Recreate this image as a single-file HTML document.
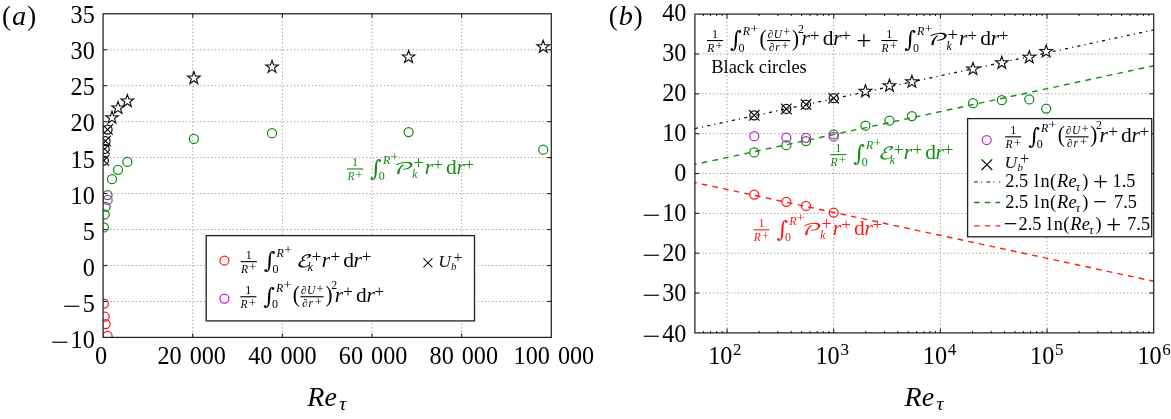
<!DOCTYPE html>
<html lang="en"><head><meta charset="utf-8"><title>Figure</title>
<style>html,body{margin:0;padding:0;background:#fff}svg{display:block}text{white-space:pre}</style></head><body>
<svg width="1171" height="419" viewBox="0 0 1171 419" font-family='"Liberation Serif","DejaVu Serif",serif'>
<rect width="1171" height="419" fill="#fff"/>
<defs><clipPath id="clipA"><rect x="103.10" y="3.80" width="458.20" height="333.60"/></clipPath></defs>
<g id="panelA">
<line x1="192.74" x2="192.74" y1="13.80" y2="337.40" stroke="#a2a2a2" stroke-width="1" stroke-dasharray="1.4 2.2"/>
<line x1="282.38" x2="282.38" y1="13.80" y2="337.40" stroke="#a2a2a2" stroke-width="1" stroke-dasharray="1.4 2.2"/>
<line x1="372.02" x2="372.02" y1="13.80" y2="337.40" stroke="#a2a2a2" stroke-width="1" stroke-dasharray="1.4 2.2"/>
<line x1="461.66" x2="461.66" y1="13.80" y2="337.40" stroke="#a2a2a2" stroke-width="1" stroke-dasharray="1.4 2.2"/>
<line x1="103.10" x2="551.30" y1="301.44" y2="301.44" stroke="#a2a2a2" stroke-width="1" stroke-dasharray="1.4 2.2"/>
<line x1="103.10" x2="551.30" y1="265.49" y2="265.49" stroke="#a2a2a2" stroke-width="1" stroke-dasharray="1.4 2.2"/>
<line x1="103.10" x2="551.30" y1="229.53" y2="229.53" stroke="#a2a2a2" stroke-width="1" stroke-dasharray="1.4 2.2"/>
<line x1="103.10" x2="551.30" y1="193.58" y2="193.58" stroke="#a2a2a2" stroke-width="1" stroke-dasharray="1.4 2.2"/>
<line x1="103.10" x2="551.30" y1="157.62" y2="157.62" stroke="#a2a2a2" stroke-width="1" stroke-dasharray="1.4 2.2"/>
<line x1="103.10" x2="551.30" y1="121.67" y2="121.67" stroke="#a2a2a2" stroke-width="1" stroke-dasharray="1.4 2.2"/>
<line x1="103.10" x2="551.30" y1="85.71" y2="85.71" stroke="#a2a2a2" stroke-width="1" stroke-dasharray="1.4 2.2"/>
<line x1="103.10" x2="551.30" y1="49.76" y2="49.76" stroke="#a2a2a2" stroke-width="1" stroke-dasharray="1.4 2.2"/>
<g clip-path="url(#clipA)">
<circle cx="103.91" cy="227.38" r="4.50" fill="none" stroke="#128c12" stroke-width="1.25"/>
<circle cx="104.71" cy="214.43" r="4.50" fill="none" stroke="#128c12" stroke-width="1.25"/>
<circle cx="105.57" cy="206.88" r="4.50" fill="none" stroke="#128c12" stroke-width="1.25"/>
<circle cx="107.58" cy="195.02" r="4.50" fill="none" stroke="#128c12" stroke-width="1.25"/>
<circle cx="103.91" cy="303.60" r="4.50" fill="none" stroke="#ff1a1a" stroke-width="1.25"/>
<circle cx="104.71" cy="316.55" r="4.50" fill="none" stroke="#ff1a1a" stroke-width="1.25"/>
<circle cx="105.57" cy="324.10" r="4.50" fill="none" stroke="#ff1a1a" stroke-width="1.25"/>
<circle cx="107.58" cy="335.96" r="4.50" fill="none" stroke="#ff1a1a" stroke-width="1.25"/>
<circle cx="107.67" cy="199.91" r="4.50" fill="none" stroke="#c41fd6" stroke-width="1.25"/>
<circle cx="103.91" cy="160.50" r="4.50" fill="none" stroke="#111" stroke-width="1.25"/>
<path d="M98.61 155.20L109.21 165.80M98.61 165.80L109.21 155.20" stroke="#111" stroke-width="1.15" fill="none"/>
<circle cx="104.71" cy="148.99" r="4.50" fill="none" stroke="#111" stroke-width="1.25"/>
<path d="M99.41 143.69L110.01 154.29M99.41 154.29L110.01 143.69" stroke="#111" stroke-width="1.15" fill="none"/>
<circle cx="105.57" cy="141.08" r="4.50" fill="none" stroke="#111" stroke-width="1.25"/>
<path d="M100.27 135.78L110.87 146.38M100.27 146.38L110.87 135.78" stroke="#111" stroke-width="1.15" fill="none"/>
<circle cx="107.58" cy="129.58" r="4.50" fill="none" stroke="#111" stroke-width="1.25"/>
<path d="M102.28 124.28L112.88 134.88M102.28 134.88L112.88 124.28" stroke="#111" stroke-width="1.15" fill="none"/>
<circle cx="112.00" cy="179.20" r="4.50" fill="none" stroke="#128c12" stroke-width="1.25"/>
<circle cx="118.04" cy="169.85" r="4.50" fill="none" stroke="#128c12" stroke-width="1.25"/>
<circle cx="127.35" cy="161.94" r="4.50" fill="none" stroke="#128c12" stroke-width="1.25"/>
<circle cx="193.86" cy="138.93" r="4.50" fill="none" stroke="#128c12" stroke-width="1.25"/>
<circle cx="272.03" cy="133.17" r="4.50" fill="none" stroke="#128c12" stroke-width="1.25"/>
<circle cx="408.59" cy="132.09" r="4.50" fill="none" stroke="#128c12" stroke-width="1.25"/>
<circle cx="543.19" cy="149.71" r="4.50" fill="none" stroke="#128c12" stroke-width="1.25"/>
<polygon points="112.00,111.11 113.55,115.58 118.27,115.67 114.51,118.53 115.88,123.05 112.00,120.35 108.12,123.05 109.49,118.53 105.72,115.67 110.45,115.58" fill="#fff" stroke="#111" stroke-width="1.15" stroke-linejoin="miter"/>
<polygon points="118.04,101.40 119.59,105.87 124.32,105.96 120.55,108.82 121.92,113.34 118.04,110.64 114.16,113.34 115.53,108.82 111.77,105.96 116.49,105.87" fill="#fff" stroke="#111" stroke-width="1.15" stroke-linejoin="miter"/>
<polygon points="127.35,94.57 128.90,99.04 133.63,99.13 129.86,101.99 131.23,106.51 127.35,103.81 123.47,106.51 124.84,101.99 121.08,99.13 125.80,99.04" fill="#fff" stroke="#111" stroke-width="1.15" stroke-linejoin="miter"/>
<polygon points="193.86,71.56 195.41,76.02 200.14,76.12 196.37,78.98 197.74,83.50 193.86,80.80 189.98,83.50 191.35,78.98 187.58,76.12 192.31,76.02" fill="#fff" stroke="#111" stroke-width="1.15" stroke-linejoin="miter"/>
<polygon points="272.03,60.41 273.58,64.88 278.30,64.97 274.54,67.83 275.91,72.35 272.03,69.65 268.15,72.35 269.52,67.83 265.75,64.97 270.47,64.88" fill="#fff" stroke="#111" stroke-width="1.15" stroke-linejoin="miter"/>
<polygon points="408.59,50.49 410.14,54.95 414.87,55.05 411.10,57.91 412.47,62.43 408.59,59.73 404.71,62.43 406.08,57.91 402.32,55.05 407.04,54.95" fill="#fff" stroke="#111" stroke-width="1.15" stroke-linejoin="miter"/>
<polygon points="543.19,40.28 544.74,44.74 549.46,44.84 545.70,47.69 547.07,52.22 543.19,49.52 539.31,52.22 540.68,47.69 536.91,44.84 541.64,44.74" fill="#fff" stroke="#111" stroke-width="1.15" stroke-linejoin="miter"/>
</g>
<line x1="192.74" x2="192.74" y1="337.40" y2="333.40" stroke="#222" stroke-width="1.1"/>
<line x1="192.74" x2="192.74" y1="13.80" y2="17.80" stroke="#222" stroke-width="1.1"/>
<line x1="282.38" x2="282.38" y1="337.40" y2="333.40" stroke="#222" stroke-width="1.1"/>
<line x1="282.38" x2="282.38" y1="13.80" y2="17.80" stroke="#222" stroke-width="1.1"/>
<line x1="372.02" x2="372.02" y1="337.40" y2="333.40" stroke="#222" stroke-width="1.1"/>
<line x1="372.02" x2="372.02" y1="13.80" y2="17.80" stroke="#222" stroke-width="1.1"/>
<line x1="461.66" x2="461.66" y1="337.40" y2="333.40" stroke="#222" stroke-width="1.1"/>
<line x1="461.66" x2="461.66" y1="13.80" y2="17.80" stroke="#222" stroke-width="1.1"/>
<line x1="103.10" x2="107.10" y1="301.44" y2="301.44" stroke="#222" stroke-width="1.1"/>
<line x1="551.30" x2="547.30" y1="301.44" y2="301.44" stroke="#222" stroke-width="1.1"/>
<line x1="103.10" x2="107.10" y1="265.49" y2="265.49" stroke="#222" stroke-width="1.1"/>
<line x1="551.30" x2="547.30" y1="265.49" y2="265.49" stroke="#222" stroke-width="1.1"/>
<line x1="103.10" x2="107.10" y1="229.53" y2="229.53" stroke="#222" stroke-width="1.1"/>
<line x1="551.30" x2="547.30" y1="229.53" y2="229.53" stroke="#222" stroke-width="1.1"/>
<line x1="103.10" x2="107.10" y1="193.58" y2="193.58" stroke="#222" stroke-width="1.1"/>
<line x1="551.30" x2="547.30" y1="193.58" y2="193.58" stroke="#222" stroke-width="1.1"/>
<line x1="103.10" x2="107.10" y1="157.62" y2="157.62" stroke="#222" stroke-width="1.1"/>
<line x1="551.30" x2="547.30" y1="157.62" y2="157.62" stroke="#222" stroke-width="1.1"/>
<line x1="103.10" x2="107.10" y1="121.67" y2="121.67" stroke="#222" stroke-width="1.1"/>
<line x1="551.30" x2="547.30" y1="121.67" y2="121.67" stroke="#222" stroke-width="1.1"/>
<line x1="103.10" x2="107.10" y1="85.71" y2="85.71" stroke="#222" stroke-width="1.1"/>
<line x1="551.30" x2="547.30" y1="85.71" y2="85.71" stroke="#222" stroke-width="1.1"/>
<line x1="103.10" x2="107.10" y1="49.76" y2="49.76" stroke="#222" stroke-width="1.1"/>
<line x1="551.30" x2="547.30" y1="49.76" y2="49.76" stroke="#222" stroke-width="1.1"/>
<rect x="103.10" y="13.80" width="448.20" height="323.60" fill="none" stroke="#222" stroke-width="1.25"/>
<text transform="translate(50.80,350.30) scale(1.36,1)" font-size="24" fill="#000">−</text><text x="94.80" y="348.30" font-size="24.2" text-anchor="end" fill="#000">10</text>
<text transform="translate(62.80,314.15) scale(1.36,1)" font-size="24" fill="#000">−</text><text x="94.80" y="312.15" font-size="24.2" text-anchor="end" fill="#000">5</text>
<text x="94.80" y="276.00" font-size="24.2" text-anchor="end" fill="#000">0</text>
<text x="94.80" y="239.85" font-size="24.2" text-anchor="end" fill="#000">5</text>
<text x="94.80" y="203.70" font-size="24.2" text-anchor="end" fill="#000">10</text>
<text x="94.80" y="167.55" font-size="24.2" text-anchor="end" fill="#000">15</text>
<text x="94.80" y="131.40" font-size="24.2" text-anchor="end" fill="#000">20</text>
<text x="94.80" y="95.25" font-size="24.2" text-anchor="end" fill="#000">25</text>
<text x="94.80" y="59.10" font-size="24.2" text-anchor="end" fill="#000">30</text>
<text x="94.80" y="22.95" font-size="24.2" text-anchor="end" fill="#000">35</text>
<text x="101.00" y="363.5" font-size="24.2" text-anchor="middle" word-spacing="2" fill="#000">0</text>
<text x="191.70" y="363.5" font-size="24.2" text-anchor="middle" word-spacing="2" fill="#000">20 000</text>
<text x="282.40" y="363.5" font-size="24.2" text-anchor="middle" word-spacing="2" fill="#000">40 000</text>
<text x="373.10" y="363.5" font-size="24.2" text-anchor="middle" word-spacing="2" fill="#000">60 000</text>
<text x="463.80" y="363.5" font-size="24.2" text-anchor="middle" word-spacing="2" fill="#000">80 000</text>
<text x="553.90" y="363.5" font-size="24.2" text-anchor="middle" word-spacing="2" fill="#000">100 000</text>
<text x="307.3" y="405.5" font-size="28" font-style="italic" fill="#000">Re<tspan font-size="19.5" x="339.3" y="409.6">τ</tspan></text>
<text x="2.1" y="25.0" font-size="26.8" letter-spacing="1.0" fill="#000">(<tspan font-style="italic" font-size="28.3">a</tspan>)</text>
<rect x="206.2" y="235.6" width="268.3" height="85.3" fill="#fff" stroke="#222" stroke-width="1.3"/>
<circle cx="224.40" cy="260.50" r="4.50" fill="none" stroke="#ff1a1a" stroke-width="1.25"/>
<circle cx="224.40" cy="298.60" r="4.50" fill="none" stroke="#c41fd6" stroke-width="1.25"/>
<g transform="translate(240.80,266.50) scale(1.0000)" fill="#000" font-family='"Liberation Serif","DejaVu Serif",serif'>
<rect x="0" y="-5.4" width="16.1" height="1.1"/>
<text x="8.0" y="-7.6" font-size="12" text-anchor="middle">1</text>
<text x="0.3" y="6.2" font-size="11.5" font-style="italic">R<tspan x="8.50" y="4.90" font-size="12.5" font-style="normal">+</tspan></text>
<text x="23.0" y="1.9" font-size="22.5" font-family='"DejaVu Serif","Liberation Serif",serif'>∫</text>
<text x="35.8" y="-10.0" font-size="12" font-style="italic">R<tspan x="43.40" y="-12.60" font-size="13.5" font-style="normal">+</tspan></text>
<text x="31.6" y="6.4" font-size="12">0</text>
<g transform="translate(55.20,0) skewX(-12) scale(1.25,1)"><text x="0" y="0" font-size="17" font-family='"DejaVu Math TeX Gyre","DejaVu Sans","Liberation Serif",serif'>ℰ</text></g>
<text x="67.00" y="4.5" font-size="11.5" font-style="italic">k</text>
<text font-size="14"><tspan x="70.90" y="-4.60" font-size="17.0" font-style="normal">+</tspan></text>
<text x="81.00" y="0" font-size="21.5"><tspan font-style="italic">r</tspan><tspan x="89.60" y="-4.30" font-size="17.0" font-style="normal">+</tspan><tspan x="102.40" y="0">d</tspan><tspan x="112.80" font-style="italic">r</tspan><tspan x="120.90" y="-4.30" font-size="17.0" font-style="normal">+</tspan></text>
</g>
<g transform="translate(240.30,301.60) scale(1.0000)" fill="#000" font-family='"Liberation Serif","DejaVu Serif",serif'>
<rect x="0" y="-5.4" width="16.1" height="1.1"/>
<text x="8.0" y="-7.6" font-size="12" text-anchor="middle">1</text>
<text x="0.3" y="6.2" font-size="11.5" font-style="italic">R<tspan x="8.50" y="4.90" font-size="12.5" font-style="normal">+</tspan></text>
<text x="23.0" y="1.9" font-size="22.5" font-family='"DejaVu Serif","Liberation Serif",serif'>∫</text>
<text x="35.8" y="-10.0" font-size="12" font-style="italic">R<tspan x="43.40" y="-12.60" font-size="13.5" font-style="normal">+</tspan></text>
<text x="31.6" y="6.4" font-size="12">0</text>
<g transform="translate(52.50,0.5) scale(0.88,1)"><text x="0" y="0" font-size="24">(</text></g>
<rect x="60.10" y="-5.4" width="23.2" height="1.1"/>
<text x="60.70" y="-7.6" font-size="11.5" font-style="italic">∂<tspan dx="0.3">U</tspan><tspan x="76.30" y="-9.10" font-size="12.5" font-style="normal">+</tspan></text>
<text x="61.90" y="5.6" font-size="11.5" font-style="italic">∂<tspan dx="0.6">r</tspan><tspan x="74.50" y="4.20" font-size="12.5" font-style="normal">+</tspan></text>
<g transform="translate(85.10,0.5) scale(0.88,1)"><text x="0" y="0" font-size="24">)</text></g>
<text x="90.90" y="-12.8" font-size="11.8">2</text>
<text x="94.40" y="0" font-size="21.5"><tspan font-style="italic">r</tspan><tspan x="103.00" y="-4.30" font-size="17.0" font-style="normal">+</tspan><tspan x="115.80" y="0">d</tspan><tspan x="126.20" font-style="italic">r</tspan><tspan x="134.30" y="-4.30" font-size="17.0" font-style="normal">+</tspan></text>
</g>
<path d="M423.40 258.40L432.40 267.40M423.40 267.40L432.40 258.40" stroke="#111" stroke-width="1.05" fill="none"/>
<text x="438.20" y="267.10" font-size="17.6" font-style="italic" fill="#111" letter-spacing="0.4">U<tspan x="451.00" y="270.30" font-size="11">b</tspan><tspan x="453.50" y="262.50" font-size="16" font-style="normal">+</tspan></text>
<g transform="translate(347.10,173.80) scale(1.0000)" fill="#128c12" font-family='"Liberation Serif","DejaVu Serif",serif'>
<rect x="0" y="-5.4" width="16.1" height="1.1"/>
<text x="8.0" y="-7.6" font-size="12" text-anchor="middle">1</text>
<text x="0.3" y="6.2" font-size="11.5" font-style="italic">R<tspan x="8.50" y="4.90" font-size="12.5" font-style="normal">+</tspan></text>
<text x="23.0" y="1.9" font-size="22.5" font-family='"DejaVu Serif","Liberation Serif",serif'>∫</text>
<text x="35.8" y="-10.0" font-size="12" font-style="italic">R<tspan x="43.40" y="-12.60" font-size="13.5" font-style="normal">+</tspan></text>
<text x="31.6" y="6.4" font-size="12">0</text>
<g transform="translate(45.20,0) skewX(-10) scale(1.52,1)"><text x="0" y="0" font-size="16" font-family='"DejaVu Math TeX Gyre","DejaVu Sans","Liberation Serif",serif'>𝒫</text></g>
<text x="65.20" y="4.5" font-size="11.5" font-style="italic">k</text>
<text font-size="14"><tspan x="66.40" y="-4.60" font-size="18.0" font-style="normal">+</tspan></text>
<text x="77.60" y="0" font-size="21.5"><tspan font-style="italic">r</tspan><tspan x="86.20" y="-4.30" font-size="17.0" font-style="normal">+</tspan><tspan x="99.00" y="0">d</tspan><tspan x="109.40" font-style="italic">r</tspan><tspan x="117.50" y="-4.30" font-size="17.0" font-style="normal">+</tspan></text>
</g>
</g>
<g id="panelB">
<line x1="727.01" x2="727.01" y1="14.10" y2="332.90" stroke="#a2a2a2" stroke-width="1" stroke-dasharray="1.4 2.2"/>
<line x1="833.68" x2="833.68" y1="14.10" y2="332.90" stroke="#a2a2a2" stroke-width="1" stroke-dasharray="1.4 2.2"/>
<line x1="940.36" x2="940.36" y1="14.10" y2="332.90" stroke="#a2a2a2" stroke-width="1" stroke-dasharray="1.4 2.2"/>
<line x1="1047.03" x2="1047.03" y1="14.10" y2="332.90" stroke="#a2a2a2" stroke-width="1" stroke-dasharray="1.4 2.2"/>
<line x1="694.90" x2="1153.70" y1="293.05" y2="293.05" stroke="#a2a2a2" stroke-width="1" stroke-dasharray="1.4 2.2"/>
<line x1="694.90" x2="1153.70" y1="253.20" y2="253.20" stroke="#a2a2a2" stroke-width="1" stroke-dasharray="1.4 2.2"/>
<line x1="694.90" x2="1153.70" y1="213.35" y2="213.35" stroke="#a2a2a2" stroke-width="1" stroke-dasharray="1.4 2.2"/>
<line x1="694.90" x2="1153.70" y1="173.50" y2="173.50" stroke="#a2a2a2" stroke-width="1" stroke-dasharray="1.4 2.2"/>
<line x1="694.90" x2="1153.70" y1="133.65" y2="133.65" stroke="#a2a2a2" stroke-width="1" stroke-dasharray="1.4 2.2"/>
<line x1="694.90" x2="1153.70" y1="93.80" y2="93.80" stroke="#a2a2a2" stroke-width="1" stroke-dasharray="1.4 2.2"/>
<line x1="694.90" x2="1153.70" y1="53.95" y2="53.95" stroke="#a2a2a2" stroke-width="1" stroke-dasharray="1.4 2.2"/>
<line x1="694.90" y1="128.55" x2="1153.70" y2="29.89" stroke="#111" stroke-width="1.30" stroke-dasharray="3 4.26 1.1 4.26" stroke-dashoffset="0"/>
<line x1="694.90" y1="164.41" x2="1153.70" y2="65.75" stroke="#128c12" stroke-width="1.40" stroke-dasharray="5.7 5.2" stroke-dashoffset="3.9"/>
<line x1="694.90" y1="182.59" x2="1153.70" y2="281.25" stroke="#ff1a1a" stroke-width="1.40" stroke-dasharray="5.7 5.2" stroke-dashoffset="3.9"/>
<circle cx="754.24" cy="152.38" r="4.50" fill="none" stroke="#128c12" stroke-width="1.25"/>
<circle cx="786.35" cy="145.21" r="4.50" fill="none" stroke="#128c12" stroke-width="1.25"/>
<circle cx="805.99" cy="141.02" r="4.50" fill="none" stroke="#128c12" stroke-width="1.25"/>
<circle cx="833.68" cy="134.45" r="4.50" fill="none" stroke="#128c12" stroke-width="1.25"/>
<circle cx="754.24" cy="194.62" r="4.50" fill="none" stroke="#ff1a1a" stroke-width="1.25"/>
<circle cx="786.35" cy="201.79" r="4.50" fill="none" stroke="#ff1a1a" stroke-width="1.25"/>
<circle cx="805.99" cy="205.98" r="4.50" fill="none" stroke="#ff1a1a" stroke-width="1.25"/>
<circle cx="833.68" cy="212.55" r="4.50" fill="none" stroke="#ff1a1a" stroke-width="1.25"/>
<circle cx="754.24" cy="136.24" r="4.50" fill="none" stroke="#c41fd6" stroke-width="1.25"/>
<circle cx="786.35" cy="137.63" r="4.50" fill="none" stroke="#c41fd6" stroke-width="1.25"/>
<circle cx="805.99" cy="137.83" r="4.50" fill="none" stroke="#c41fd6" stroke-width="1.25"/>
<circle cx="833.68" cy="136.64" r="4.50" fill="none" stroke="#c41fd6" stroke-width="1.25"/>
<circle cx="754.24" cy="115.32" r="4.50" fill="none" stroke="#111" stroke-width="1.25"/>
<path d="M748.94 110.02L759.54 120.62M748.94 120.62L759.54 110.02" stroke="#111" stroke-width="1.15" fill="none"/>
<circle cx="786.35" cy="108.94" r="4.50" fill="none" stroke="#111" stroke-width="1.25"/>
<path d="M781.05 103.64L791.65 114.24M781.05 114.24L791.65 103.64" stroke="#111" stroke-width="1.15" fill="none"/>
<circle cx="805.99" cy="104.56" r="4.50" fill="none" stroke="#111" stroke-width="1.25"/>
<path d="M800.69 99.26L811.29 109.86M800.69 109.86L811.29 99.26" stroke="#111" stroke-width="1.15" fill="none"/>
<circle cx="833.68" cy="98.18" r="4.50" fill="none" stroke="#111" stroke-width="1.25"/>
<path d="M828.38 92.88L838.98 103.48M828.38 103.48L838.98 92.88" stroke="#111" stroke-width="1.15" fill="none"/>
<circle cx="865.45" cy="125.68" r="4.50" fill="none" stroke="#128c12" stroke-width="1.25"/>
<circle cx="889.47" cy="120.50" r="4.50" fill="none" stroke="#128c12" stroke-width="1.25"/>
<circle cx="911.90" cy="116.12" r="4.50" fill="none" stroke="#128c12" stroke-width="1.25"/>
<circle cx="973.04" cy="103.16" r="4.50" fill="none" stroke="#128c12" stroke-width="1.25"/>
<circle cx="1001.82" cy="100.18" r="4.50" fill="none" stroke="#128c12" stroke-width="1.25"/>
<circle cx="1029.27" cy="99.38" r="4.50" fill="none" stroke="#128c12" stroke-width="1.25"/>
<circle cx="1046.18" cy="108.54" r="4.50" fill="none" stroke="#128c12" stroke-width="1.25"/>
<polygon points="865.45,84.81 867.00,89.27 871.72,89.37 867.96,92.22 869.33,96.75 865.45,94.05 861.57,96.75 862.94,92.22 859.17,89.37 863.89,89.27" fill="#fff" stroke="#111" stroke-width="1.15" stroke-linejoin="miter"/>
<polygon points="889.47,79.23 891.02,83.69 895.75,83.79 891.98,86.65 893.35,91.17 889.47,88.47 885.59,91.17 886.96,86.65 883.19,83.79 887.92,83.69" fill="#fff" stroke="#111" stroke-width="1.15" stroke-linejoin="miter"/>
<polygon points="911.90,75.24 913.46,79.71 918.18,79.81 914.41,82.66 915.78,87.18 911.90,84.48 908.02,87.18 909.39,82.66 905.63,79.81 910.35,79.71" fill="#fff" stroke="#111" stroke-width="1.15" stroke-linejoin="miter"/>
<polygon points="973.04,62.49 974.59,66.96 979.32,67.05 975.55,69.91 976.92,74.43 973.04,71.73 969.16,74.43 970.53,69.91 966.77,67.05 971.49,66.96" fill="#fff" stroke="#111" stroke-width="1.15" stroke-linejoin="miter"/>
<polygon points="1001.82,56.32 1003.37,60.78 1008.10,60.88 1004.33,63.73 1005.70,68.26 1001.82,65.56 997.94,68.26 999.31,63.73 995.55,60.88 1000.27,60.78" fill="#fff" stroke="#111" stroke-width="1.15" stroke-linejoin="miter"/>
<polygon points="1029.27,50.74 1030.82,55.20 1035.55,55.30 1031.78,58.15 1033.15,62.68 1029.27,59.98 1025.39,62.68 1026.76,58.15 1022.99,55.30 1027.72,55.20" fill="#fff" stroke="#111" stroke-width="1.15" stroke-linejoin="miter"/>
<polygon points="1046.18,44.96 1047.73,49.42 1052.46,49.52 1048.69,52.37 1050.06,56.90 1046.18,54.20 1042.30,56.90 1043.67,52.37 1039.90,49.52 1044.63,49.42" fill="#fff" stroke="#111" stroke-width="1.15" stroke-linejoin="miter"/>
<line x1="703.35" x2="703.35" y1="332.90" y2="330.90" stroke="#222" stroke-width="1.1"/>
<line x1="703.35" x2="703.35" y1="14.10" y2="16.10" stroke="#222" stroke-width="1.1"/>
<line x1="710.49" x2="710.49" y1="332.90" y2="330.90" stroke="#222" stroke-width="1.1"/>
<line x1="710.49" x2="710.49" y1="14.10" y2="16.10" stroke="#222" stroke-width="1.1"/>
<line x1="716.67" x2="716.67" y1="332.90" y2="330.90" stroke="#222" stroke-width="1.1"/>
<line x1="716.67" x2="716.67" y1="14.10" y2="16.10" stroke="#222" stroke-width="1.1"/>
<line x1="722.13" x2="722.13" y1="332.90" y2="330.90" stroke="#222" stroke-width="1.1"/>
<line x1="722.13" x2="722.13" y1="14.10" y2="16.10" stroke="#222" stroke-width="1.1"/>
<line x1="727.01" x2="727.01" y1="332.90" y2="328.60" stroke="#222" stroke-width="1.1"/>
<line x1="727.01" x2="727.01" y1="14.10" y2="18.40" stroke="#222" stroke-width="1.1"/>
<line x1="759.12" x2="759.12" y1="332.90" y2="330.90" stroke="#222" stroke-width="1.1"/>
<line x1="759.12" x2="759.12" y1="14.10" y2="16.10" stroke="#222" stroke-width="1.1"/>
<line x1="777.91" x2="777.91" y1="332.90" y2="330.90" stroke="#222" stroke-width="1.1"/>
<line x1="777.91" x2="777.91" y1="14.10" y2="16.10" stroke="#222" stroke-width="1.1"/>
<line x1="791.23" x2="791.23" y1="332.90" y2="330.90" stroke="#222" stroke-width="1.1"/>
<line x1="791.23" x2="791.23" y1="14.10" y2="16.10" stroke="#222" stroke-width="1.1"/>
<line x1="801.57" x2="801.57" y1="332.90" y2="330.90" stroke="#222" stroke-width="1.1"/>
<line x1="801.57" x2="801.57" y1="14.10" y2="16.10" stroke="#222" stroke-width="1.1"/>
<line x1="810.02" x2="810.02" y1="332.90" y2="330.90" stroke="#222" stroke-width="1.1"/>
<line x1="810.02" x2="810.02" y1="14.10" y2="16.10" stroke="#222" stroke-width="1.1"/>
<line x1="817.16" x2="817.16" y1="332.90" y2="330.90" stroke="#222" stroke-width="1.1"/>
<line x1="817.16" x2="817.16" y1="14.10" y2="16.10" stroke="#222" stroke-width="1.1"/>
<line x1="823.35" x2="823.35" y1="332.90" y2="330.90" stroke="#222" stroke-width="1.1"/>
<line x1="823.35" x2="823.35" y1="14.10" y2="16.10" stroke="#222" stroke-width="1.1"/>
<line x1="828.80" x2="828.80" y1="332.90" y2="330.90" stroke="#222" stroke-width="1.1"/>
<line x1="828.80" x2="828.80" y1="14.10" y2="16.10" stroke="#222" stroke-width="1.1"/>
<line x1="833.68" x2="833.68" y1="332.90" y2="328.60" stroke="#222" stroke-width="1.1"/>
<line x1="833.68" x2="833.68" y1="14.10" y2="18.40" stroke="#222" stroke-width="1.1"/>
<line x1="865.80" x2="865.80" y1="332.90" y2="330.90" stroke="#222" stroke-width="1.1"/>
<line x1="865.80" x2="865.80" y1="14.10" y2="16.10" stroke="#222" stroke-width="1.1"/>
<line x1="884.58" x2="884.58" y1="332.90" y2="330.90" stroke="#222" stroke-width="1.1"/>
<line x1="884.58" x2="884.58" y1="14.10" y2="16.10" stroke="#222" stroke-width="1.1"/>
<line x1="897.91" x2="897.91" y1="332.90" y2="330.90" stroke="#222" stroke-width="1.1"/>
<line x1="897.91" x2="897.91" y1="14.10" y2="16.10" stroke="#222" stroke-width="1.1"/>
<line x1="908.24" x2="908.24" y1="332.90" y2="330.90" stroke="#222" stroke-width="1.1"/>
<line x1="908.24" x2="908.24" y1="14.10" y2="16.10" stroke="#222" stroke-width="1.1"/>
<line x1="916.69" x2="916.69" y1="332.90" y2="330.90" stroke="#222" stroke-width="1.1"/>
<line x1="916.69" x2="916.69" y1="14.10" y2="16.10" stroke="#222" stroke-width="1.1"/>
<line x1="923.83" x2="923.83" y1="332.90" y2="330.90" stroke="#222" stroke-width="1.1"/>
<line x1="923.83" x2="923.83" y1="14.10" y2="16.10" stroke="#222" stroke-width="1.1"/>
<line x1="930.02" x2="930.02" y1="332.90" y2="330.90" stroke="#222" stroke-width="1.1"/>
<line x1="930.02" x2="930.02" y1="14.10" y2="16.10" stroke="#222" stroke-width="1.1"/>
<line x1="935.47" x2="935.47" y1="332.90" y2="330.90" stroke="#222" stroke-width="1.1"/>
<line x1="935.47" x2="935.47" y1="14.10" y2="16.10" stroke="#222" stroke-width="1.1"/>
<line x1="940.36" x2="940.36" y1="332.90" y2="328.60" stroke="#222" stroke-width="1.1"/>
<line x1="940.36" x2="940.36" y1="14.10" y2="18.40" stroke="#222" stroke-width="1.1"/>
<line x1="972.47" x2="972.47" y1="332.90" y2="330.90" stroke="#222" stroke-width="1.1"/>
<line x1="972.47" x2="972.47" y1="14.10" y2="16.10" stroke="#222" stroke-width="1.1"/>
<line x1="991.25" x2="991.25" y1="332.90" y2="330.90" stroke="#222" stroke-width="1.1"/>
<line x1="991.25" x2="991.25" y1="14.10" y2="16.10" stroke="#222" stroke-width="1.1"/>
<line x1="1004.58" x2="1004.58" y1="332.90" y2="330.90" stroke="#222" stroke-width="1.1"/>
<line x1="1004.58" x2="1004.58" y1="14.10" y2="16.10" stroke="#222" stroke-width="1.1"/>
<line x1="1014.92" x2="1014.92" y1="332.90" y2="330.90" stroke="#222" stroke-width="1.1"/>
<line x1="1014.92" x2="1014.92" y1="14.10" y2="16.10" stroke="#222" stroke-width="1.1"/>
<line x1="1023.36" x2="1023.36" y1="332.90" y2="330.90" stroke="#222" stroke-width="1.1"/>
<line x1="1023.36" x2="1023.36" y1="14.10" y2="16.10" stroke="#222" stroke-width="1.1"/>
<line x1="1030.50" x2="1030.50" y1="332.90" y2="330.90" stroke="#222" stroke-width="1.1"/>
<line x1="1030.50" x2="1030.50" y1="14.10" y2="16.10" stroke="#222" stroke-width="1.1"/>
<line x1="1036.69" x2="1036.69" y1="332.90" y2="330.90" stroke="#222" stroke-width="1.1"/>
<line x1="1036.69" x2="1036.69" y1="14.10" y2="16.10" stroke="#222" stroke-width="1.1"/>
<line x1="1042.15" x2="1042.15" y1="332.90" y2="330.90" stroke="#222" stroke-width="1.1"/>
<line x1="1042.15" x2="1042.15" y1="14.10" y2="16.10" stroke="#222" stroke-width="1.1"/>
<line x1="1047.03" x2="1047.03" y1="332.90" y2="328.60" stroke="#222" stroke-width="1.1"/>
<line x1="1047.03" x2="1047.03" y1="14.10" y2="18.40" stroke="#222" stroke-width="1.1"/>
<line x1="1079.14" x2="1079.14" y1="332.90" y2="330.90" stroke="#222" stroke-width="1.1"/>
<line x1="1079.14" x2="1079.14" y1="14.10" y2="16.10" stroke="#222" stroke-width="1.1"/>
<line x1="1097.92" x2="1097.92" y1="332.90" y2="330.90" stroke="#222" stroke-width="1.1"/>
<line x1="1097.92" x2="1097.92" y1="14.10" y2="16.10" stroke="#222" stroke-width="1.1"/>
<line x1="1111.25" x2="1111.25" y1="332.90" y2="330.90" stroke="#222" stroke-width="1.1"/>
<line x1="1111.25" x2="1111.25" y1="14.10" y2="16.10" stroke="#222" stroke-width="1.1"/>
<line x1="1121.59" x2="1121.59" y1="332.90" y2="330.90" stroke="#222" stroke-width="1.1"/>
<line x1="1121.59" x2="1121.59" y1="14.10" y2="16.10" stroke="#222" stroke-width="1.1"/>
<line x1="1130.03" x2="1130.03" y1="332.90" y2="330.90" stroke="#222" stroke-width="1.1"/>
<line x1="1130.03" x2="1130.03" y1="14.10" y2="16.10" stroke="#222" stroke-width="1.1"/>
<line x1="1137.18" x2="1137.18" y1="332.90" y2="330.90" stroke="#222" stroke-width="1.1"/>
<line x1="1137.18" x2="1137.18" y1="14.10" y2="16.10" stroke="#222" stroke-width="1.1"/>
<line x1="1143.36" x2="1143.36" y1="332.90" y2="330.90" stroke="#222" stroke-width="1.1"/>
<line x1="1143.36" x2="1143.36" y1="14.10" y2="16.10" stroke="#222" stroke-width="1.1"/>
<line x1="1148.82" x2="1148.82" y1="332.90" y2="330.90" stroke="#222" stroke-width="1.1"/>
<line x1="1148.82" x2="1148.82" y1="14.10" y2="16.10" stroke="#222" stroke-width="1.1"/>
<line x1="694.90" x2="699.20" y1="293.05" y2="293.05" stroke="#222" stroke-width="1.1"/>
<line x1="1153.70" x2="1149.40" y1="293.05" y2="293.05" stroke="#222" stroke-width="1.1"/>
<line x1="694.90" x2="699.20" y1="253.20" y2="253.20" stroke="#222" stroke-width="1.1"/>
<line x1="1153.70" x2="1149.40" y1="253.20" y2="253.20" stroke="#222" stroke-width="1.1"/>
<line x1="694.90" x2="699.20" y1="213.35" y2="213.35" stroke="#222" stroke-width="1.1"/>
<line x1="1153.70" x2="1149.40" y1="213.35" y2="213.35" stroke="#222" stroke-width="1.1"/>
<line x1="694.90" x2="699.20" y1="173.50" y2="173.50" stroke="#222" stroke-width="1.1"/>
<line x1="1153.70" x2="1149.40" y1="173.50" y2="173.50" stroke="#222" stroke-width="1.1"/>
<line x1="694.90" x2="699.20" y1="133.65" y2="133.65" stroke="#222" stroke-width="1.1"/>
<line x1="1153.70" x2="1149.40" y1="133.65" y2="133.65" stroke="#222" stroke-width="1.1"/>
<line x1="694.90" x2="699.20" y1="93.80" y2="93.80" stroke="#222" stroke-width="1.1"/>
<line x1="1153.70" x2="1149.40" y1="93.80" y2="93.80" stroke="#222" stroke-width="1.1"/>
<line x1="694.90" x2="699.20" y1="53.95" y2="53.95" stroke="#222" stroke-width="1.1"/>
<line x1="1153.70" x2="1149.40" y1="53.95" y2="53.95" stroke="#222" stroke-width="1.1"/>
<rect x="694.90" y="14.10" width="458.80" height="318.80" fill="none" stroke="#222" stroke-width="1.25"/>
<text transform="translate(642.30,343.60) scale(1.36,1)" font-size="24" fill="#000">−</text><text x="686.40" y="341.60" font-size="24.2" text-anchor="end" fill="#000">40</text>
<text transform="translate(642.30,303.48) scale(1.36,1)" font-size="24" fill="#000">−</text><text x="686.40" y="301.48" font-size="24.2" text-anchor="end" fill="#000">30</text>
<text transform="translate(642.30,263.35) scale(1.36,1)" font-size="24" fill="#000">−</text><text x="686.40" y="261.35" font-size="24.2" text-anchor="end" fill="#000">20</text>
<text transform="translate(642.30,223.22) scale(1.36,1)" font-size="24" fill="#000">−</text><text x="686.40" y="221.22" font-size="24.2" text-anchor="end" fill="#000">10</text>
<text x="686.40" y="181.10" font-size="24.2" text-anchor="end" fill="#000">0</text>
<text x="686.40" y="140.97" font-size="24.2" text-anchor="end" fill="#000">10</text>
<text x="686.40" y="100.85" font-size="24.2" text-anchor="end" fill="#000">20</text>
<text x="686.40" y="60.73" font-size="24.2" text-anchor="end" fill="#000">30</text>
<text x="686.40" y="20.60" font-size="24.2" text-anchor="end" fill="#000">40</text>
<text x="708.20" y="364.0" font-size="24.2" fill="#000">10<tspan font-size="17" x="733.10" y="354.6">2</tspan></text>
<text x="815.50" y="364.0" font-size="24.2" fill="#000">10<tspan font-size="17" x="840.40" y="354.6">3</tspan></text>
<text x="922.80" y="364.0" font-size="24.2" fill="#000">10<tspan font-size="17" x="947.70" y="354.6">4</tspan></text>
<text x="1030.10" y="364.0" font-size="24.2" fill="#000">10<tspan font-size="17" x="1055.00" y="354.6">5</tspan></text>
<text x="1137.40" y="364.0" font-size="24.2" fill="#000">10<tspan font-size="17" x="1162.30" y="354.6">6</tspan></text>
<text x="904.6" y="405.5" font-size="28" font-style="italic" fill="#000">Re<tspan font-size="19.5" x="936.6" y="409.6">τ</tspan></text>
<text x="608.7" y="25.0" font-size="26.8" letter-spacing="1.0" fill="#000">(<tspan font-style="italic" font-size="28.3">b</tspan>)</text>
<g transform="translate(707.00,45.40) scale(1.0000)" fill="#000" font-family='"Liberation Serif","DejaVu Serif",serif'>
<rect x="0" y="-5.4" width="16.1" height="1.1"/>
<text x="8.0" y="-7.6" font-size="12" text-anchor="middle">1</text>
<text x="0.3" y="6.2" font-size="11.5" font-style="italic">R<tspan x="8.50" y="4.90" font-size="12.5" font-style="normal">+</tspan></text>
<text x="23.0" y="1.9" font-size="22.5" font-family='"DejaVu Serif","Liberation Serif",serif'>∫</text>
<text x="35.8" y="-10.0" font-size="12" font-style="italic">R<tspan x="43.40" y="-12.60" font-size="13.5" font-style="normal">+</tspan></text>
<text x="31.6" y="6.4" font-size="12">0</text>
<g transform="translate(52.50,0.5) scale(0.88,1)"><text x="0" y="0" font-size="24">(</text></g>
<rect x="60.10" y="-5.4" width="23.2" height="1.1"/>
<text x="60.70" y="-7.6" font-size="11.5" font-style="italic">∂<tspan dx="0.3">U</tspan><tspan x="76.30" y="-9.10" font-size="12.5" font-style="normal">+</tspan></text>
<text x="61.90" y="5.6" font-size="11.5" font-style="italic">∂<tspan dx="0.6">r</tspan><tspan x="74.50" y="4.20" font-size="12.5" font-style="normal">+</tspan></text>
<g transform="translate(85.10,0.5) scale(0.88,1)"><text x="0" y="0" font-size="24">)</text></g>
<text x="90.90" y="-12.8" font-size="11.8">2</text>
<text x="94.40" y="0" font-size="21.5"><tspan font-style="italic">r</tspan><tspan x="103.00" y="-4.30" font-size="17.0" font-style="normal">+</tspan><tspan x="115.80" y="0">d</tspan><tspan x="126.20" font-style="italic">r</tspan><tspan x="134.30" y="-4.30" font-size="17.0" font-style="normal">+</tspan></text>
</g>
<text x="856.2" y="49.6" font-size="27" fill="#000">+</text>
<g transform="translate(881.30,45.40) scale(1.0000)" fill="#000" font-family='"Liberation Serif","DejaVu Serif",serif'>
<rect x="0" y="-5.4" width="16.1" height="1.1"/>
<text x="8.0" y="-7.6" font-size="12" text-anchor="middle">1</text>
<text x="0.3" y="6.2" font-size="11.5" font-style="italic">R<tspan x="8.50" y="4.90" font-size="12.5" font-style="normal">+</tspan></text>
<text x="23.0" y="1.9" font-size="22.5" font-family='"DejaVu Serif","Liberation Serif",serif'>∫</text>
<text x="35.8" y="-10.0" font-size="12" font-style="italic">R<tspan x="43.40" y="-12.60" font-size="13.5" font-style="normal">+</tspan></text>
<text x="31.6" y="6.4" font-size="12">0</text>
<g transform="translate(45.20,0) skewX(-10) scale(1.52,1)"><text x="0" y="0" font-size="16" font-family='"DejaVu Math TeX Gyre","DejaVu Sans","Liberation Serif",serif'>𝒫</text></g>
<text x="65.20" y="4.5" font-size="11.5" font-style="italic">k</text>
<text font-size="14"><tspan x="66.40" y="-4.60" font-size="18.0" font-style="normal">+</tspan></text>
<text x="77.60" y="0" font-size="21.5"><tspan font-style="italic">r</tspan><tspan x="86.20" y="-4.30" font-size="17.0" font-style="normal">+</tspan><tspan x="99.00" y="0">d</tspan><tspan x="109.40" font-style="italic">r</tspan><tspan x="117.50" y="-4.30" font-size="17.0" font-style="normal">+</tspan></text>
</g>
<text x="711.3" y="73.4" font-size="18.4" fill="#000">Black circles</text>
<g transform="translate(830.20,159.45) scale(1.0000)" fill="#128c12" font-family='"Liberation Serif","DejaVu Serif",serif'>
<rect x="0" y="-5.4" width="16.1" height="1.1"/>
<text x="8.0" y="-7.6" font-size="12" text-anchor="middle">1</text>
<text x="0.3" y="6.2" font-size="11.5" font-style="italic">R<tspan x="8.50" y="4.90" font-size="12.5" font-style="normal">+</tspan></text>
<text x="23.0" y="1.9" font-size="22.5" font-family='"DejaVu Serif","Liberation Serif",serif'>∫</text>
<text x="35.8" y="-10.0" font-size="12" font-style="italic">R<tspan x="43.40" y="-12.60" font-size="13.5" font-style="normal">+</tspan></text>
<text x="31.6" y="6.4" font-size="12">0</text>
<g transform="translate(47.80,0) skewX(-12) scale(1.25,1)"><text x="0" y="0" font-size="17" font-family='"DejaVu Math TeX Gyre","DejaVu Sans","Liberation Serif",serif'>ℰ</text></g>
<text x="59.60" y="4.5" font-size="11.5" font-style="italic">k</text>
<text font-size="14"><tspan x="63.50" y="-4.60" font-size="17.0" font-style="normal">+</tspan></text>
<text x="73.60" y="0" font-size="21.5"><tspan font-style="italic">r</tspan><tspan x="82.20" y="-4.30" font-size="17.0" font-style="normal">+</tspan><tspan x="95.00" y="0">d</tspan><tspan x="105.40" font-style="italic">r</tspan><tspan x="113.50" y="-4.30" font-size="17.0" font-style="normal">+</tspan></text>
</g>
<g transform="translate(753.40,234.70) scale(1.0000)" fill="#ff1a1a" font-family='"Liberation Serif","DejaVu Serif",serif'>
<rect x="0" y="-5.4" width="16.1" height="1.1"/>
<text x="8.0" y="-7.6" font-size="12" text-anchor="middle">1</text>
<text x="0.3" y="6.2" font-size="11.5" font-style="italic">R<tspan x="8.50" y="4.90" font-size="12.5" font-style="normal">+</tspan></text>
<text x="23.0" y="1.9" font-size="22.5" font-family='"DejaVu Serif","Liberation Serif",serif'>∫</text>
<text x="35.8" y="-10.0" font-size="12" font-style="italic">R<tspan x="43.40" y="-12.60" font-size="13.5" font-style="normal">+</tspan></text>
<text x="31.6" y="6.4" font-size="12">0</text>
<g transform="translate(46.90,0) skewX(-10) scale(1.52,1)"><text x="0" y="0" font-size="16" font-family='"DejaVu Math TeX Gyre","DejaVu Sans","Liberation Serif",serif'>𝒫</text></g>
<text x="66.90" y="4.5" font-size="11.5" font-style="italic">k</text>
<text font-size="14"><tspan x="68.10" y="-4.60" font-size="18.0" font-style="normal">+</tspan></text>
<text x="79.30" y="0" font-size="21.5"><tspan font-style="italic">r</tspan><tspan x="87.90" y="-4.30" font-size="17.0" font-style="normal">+</tspan><tspan x="100.70" y="0">d</tspan><tspan x="111.10" font-style="italic">r</tspan><tspan x="119.20" y="-4.30" font-size="17.0" font-style="normal">+</tspan></text>
</g>
<rect x="967.6" y="118.6" width="184.1" height="118.2" fill="#fff" stroke="#222" stroke-width="1.3"/>
<circle cx="986.70" cy="140.00" r="4.50" fill="none" stroke="#c41fd6" stroke-width="1.25"/>
<g transform="translate(1005.20,141.70) scale(1.0000)" fill="#000" font-family='"Liberation Serif","DejaVu Serif",serif'>
<rect x="0" y="-5.4" width="16.1" height="1.1"/>
<text x="8.0" y="-7.6" font-size="12" text-anchor="middle">1</text>
<text x="0.3" y="6.2" font-size="11.5" font-style="italic">R<tspan x="8.50" y="4.90" font-size="12.5" font-style="normal">+</tspan></text>
<text x="23.0" y="1.9" font-size="22.5" font-family='"DejaVu Serif","Liberation Serif",serif'>∫</text>
<text x="35.8" y="-10.0" font-size="12" font-style="italic">R<tspan x="43.40" y="-12.60" font-size="13.5" font-style="normal">+</tspan></text>
<text x="31.6" y="6.4" font-size="12">0</text>
<g transform="translate(52.50,0.5) scale(0.88,1)"><text x="0" y="0" font-size="24">(</text></g>
<rect x="60.10" y="-5.4" width="23.2" height="1.1"/>
<text x="60.70" y="-7.6" font-size="11.5" font-style="italic">∂<tspan dx="0.3">U</tspan><tspan x="76.30" y="-9.10" font-size="12.5" font-style="normal">+</tspan></text>
<text x="61.90" y="5.6" font-size="11.5" font-style="italic">∂<tspan dx="0.6">r</tspan><tspan x="74.50" y="4.20" font-size="12.5" font-style="normal">+</tspan></text>
<g transform="translate(85.10,0.5) scale(0.88,1)"><text x="0" y="0" font-size="24">)</text></g>
<text x="90.90" y="-12.8" font-size="11.8">2</text>
<text x="94.40" y="0" font-size="21.5"><tspan font-style="italic">r</tspan><tspan x="103.00" y="-4.30" font-size="17.0" font-style="normal">+</tspan><tspan x="115.80" y="0">d</tspan><tspan x="126.20" font-style="italic">r</tspan><tspan x="134.30" y="-4.30" font-size="17.0" font-style="normal">+</tspan></text>
</g>
<path d="M981.60 159.40L992.20 170.00M981.60 170.00L992.20 159.40" stroke="#111" stroke-width="1.30" fill="none"/>
<text x="1004.60" y="168.20" font-size="17.6" font-style="italic" fill="#111" letter-spacing="0.4">U<tspan x="1017.40" y="171.40" font-size="11">b</tspan><tspan x="1019.90" y="163.60" font-size="16" font-style="normal">+</tspan></text>
<line x1="974.1" x2="1000.3" y1="182.0" y2="182.0" stroke="#111" stroke-width="1.1" stroke-dasharray="3.6 3.3 1.1 4.4"/>
<text y="187.30" font-size="18.3" fill="#000"><tspan x="1005.30" y="187.30">2.5</tspan><tspan x="1033.90" letter-spacing="1.6">ln</tspan><tspan x="1050.00">(</tspan><tspan x="1057.00" font-style="italic" letter-spacing="0.3">Re</tspan><tspan x="1075.70" y="190.90" font-size="12.5" font-style="italic">τ</tspan><tspan x="1082.20" y="187.30">)</tspan><tspan x="1093.10" y="191.10" font-size="26.5">+</tspan><tspan x="1112.50" y="187.30">1.5</tspan></text>
<line x1="974.1" x2="1000.2" y1="202.5" y2="202.5" stroke="#128c12" stroke-width="1.4" stroke-dasharray="5.4 5.3"/>
<text y="208.40" font-size="18.3" fill="#000"><tspan x="1005.30" y="208.40">2.5</tspan><tspan x="1033.90" letter-spacing="1.6">ln</tspan><tspan x="1050.00">(</tspan><tspan x="1057.00" font-style="italic" letter-spacing="0.3">Re</tspan><tspan x="1075.70" y="212.00" font-size="12.5" font-style="italic">τ</tspan><tspan x="1082.20" y="208.40">)</tspan><tspan x="1093.20" y="210.10" font-size="24.5">−</tspan><tspan x="1114.00" y="208.40">7.5</tspan></text>
<line x1="974.1" x2="1000.2" y1="225.9" y2="225.9" stroke="#ff1a1a" stroke-width="1.4" stroke-dasharray="5.4 5.3"/>
<text y="230.20" font-size="18.3" fill="#000"><tspan x="1003.80" y="231.90" font-size="24.5">−</tspan><tspan x="1018.50" y="230.20">2.5</tspan><tspan x="1047.10" letter-spacing="1.6">ln</tspan><tspan x="1063.20">(</tspan><tspan x="1070.20" font-style="italic" letter-spacing="0.3">Re</tspan><tspan x="1088.90" y="233.80" font-size="12.5" font-style="italic">τ</tspan><tspan x="1095.40" y="230.20">)</tspan><tspan x="1106.30" y="234.00" font-size="26.5">+</tspan><tspan x="1127.20" y="230.20">7.5</tspan></text>
</g>
</svg></body></html>
